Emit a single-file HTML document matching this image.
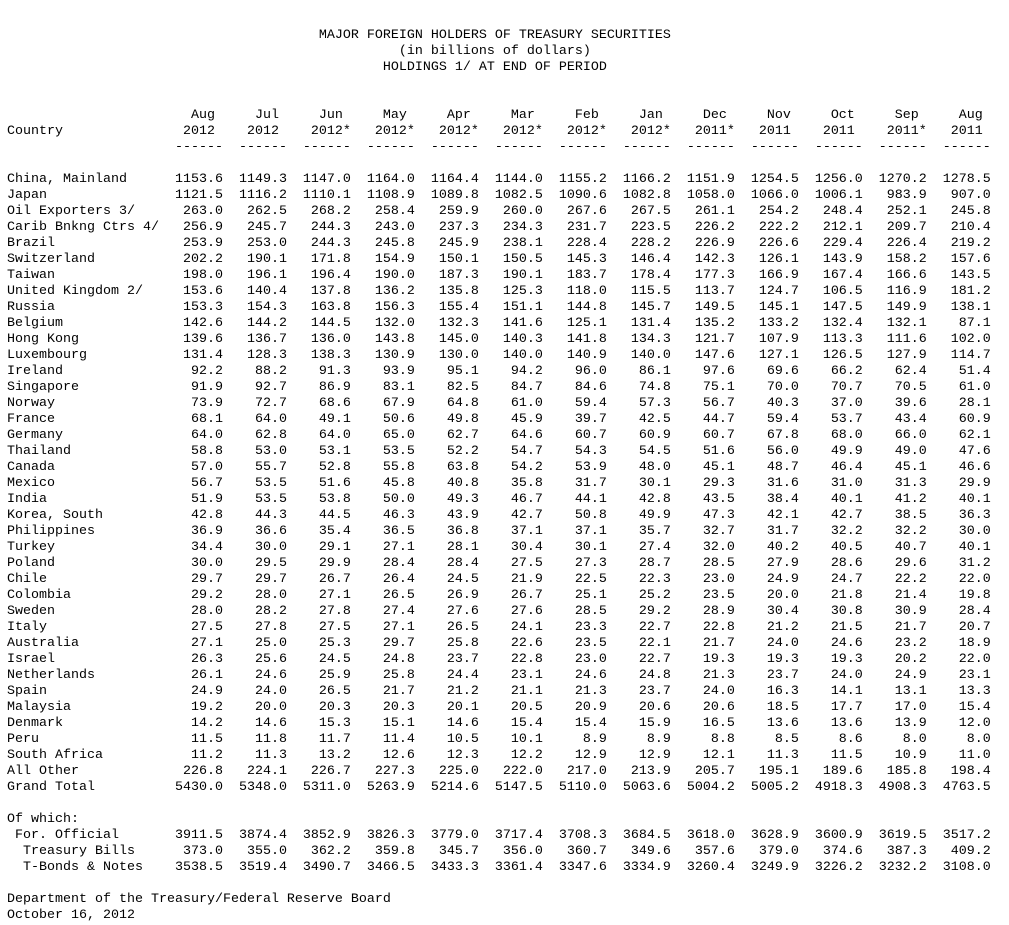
<!DOCTYPE html>
<html><head><meta charset="utf-8"><style>
html,body{margin:0;padding:0;background:#fff;}
body{width:1009px;height:925px;overflow:hidden;position:relative;}
pre{position:absolute;left:7px;top:28px;margin:0;font-family:"Liberation Mono",monospace;font-size:13.33px;line-height:16px;color:#000;}
</style></head><body><pre>                                       MAJOR FOREIGN HOLDERS OF TREASURY SECURITIES
                                                 (in billions of dollars)
                                               HOLDINGS 1/ AT END OF PERIOD


                       Aug     Jul     Jun     May     Apr     Mar     Feb     Jan     Dec     Nov     Oct     Sep     Aug
Country               2012    2012    2012*   2012*   2012*   2012*   2012*   2012*   2011*   2011    2011    2011*   2011
                     ------  ------  ------  ------  ------  ------  ------  ------  ------  ------  ------  ------  ------

China, Mainland      1153.6  1149.3  1147.0  1164.0  1164.4  1144.0  1155.2  1166.2  1151.9  1254.5  1256.0  1270.2  1278.5
Japan                1121.5  1116.2  1110.1  1108.9  1089.8  1082.5  1090.6  1082.8  1058.0  1066.0  1006.1   983.9   907.0
Oil Exporters 3/      263.0   262.5   268.2   258.4   259.9   260.0   267.6   267.5   261.1   254.2   248.4   252.1   245.8
Carib Bnkng Ctrs 4/   256.9   245.7   244.3   243.0   237.3   234.3   231.7   223.5   226.2   222.2   212.1   209.7   210.4
Brazil                253.9   253.0   244.3   245.8   245.9   238.1   228.4   228.2   226.9   226.6   229.4   226.4   219.2
Switzerland           202.2   190.1   171.8   154.9   150.1   150.5   145.3   146.4   142.3   126.1   143.9   158.2   157.6
Taiwan                198.0   196.1   196.4   190.0   187.3   190.1   183.7   178.4   177.3   166.9   167.4   166.6   143.5
United Kingdom 2/     153.6   140.4   137.8   136.2   135.8   125.3   118.0   115.5   113.7   124.7   106.5   116.9   181.2
Russia                153.3   154.3   163.8   156.3   155.4   151.1   144.8   145.7   149.5   145.1   147.5   149.9   138.1
Belgium               142.6   144.2   144.5   132.0   132.3   141.6   125.1   131.4   135.2   133.2   132.4   132.1    87.1
Hong Kong             139.6   136.7   136.0   143.8   145.0   140.3   141.8   134.3   121.7   107.9   113.3   111.6   102.0
Luxembourg            131.4   128.3   138.3   130.9   130.0   140.0   140.9   140.0   147.6   127.1   126.5   127.9   114.7
Ireland                92.2    88.2    91.3    93.9    95.1    94.2    96.0    86.1    97.6    69.6    66.2    62.4    51.4
Singapore              91.9    92.7    86.9    83.1    82.5    84.7    84.6    74.8    75.1    70.0    70.7    70.5    61.0
Norway                 73.9    72.7    68.6    67.9    64.8    61.0    59.4    57.3    56.7    40.3    37.0    39.6    28.1
France                 68.1    64.0    49.1    50.6    49.8    45.9    39.7    42.5    44.7    59.4    53.7    43.4    60.9
Germany                64.0    62.8    64.0    65.0    62.7    64.6    60.7    60.9    60.7    67.8    68.0    66.0    62.1
Thailand               58.8    53.0    53.1    53.5    52.2    54.7    54.3    54.5    51.6    56.0    49.9    49.0    47.6
Canada                 57.0    55.7    52.8    55.8    63.8    54.2    53.9    48.0    45.1    48.7    46.4    45.1    46.6
Mexico                 56.7    53.5    51.6    45.8    40.8    35.8    31.7    30.1    29.3    31.6    31.0    31.3    29.9
India                  51.9    53.5    53.8    50.0    49.3    46.7    44.1    42.8    43.5    38.4    40.1    41.2    40.1
Korea, South           42.8    44.3    44.5    46.3    43.9    42.7    50.8    49.9    47.3    42.1    42.7    38.5    36.3
Philippines            36.9    36.6    35.4    36.5    36.8    37.1    37.1    35.7    32.7    31.7    32.2    32.2    30.0
Turkey                 34.4    30.0    29.1    27.1    28.1    30.4    30.1    27.4    32.0    40.2    40.5    40.7    40.1
Poland                 30.0    29.5    29.9    28.4    28.4    27.5    27.3    28.7    28.5    27.9    28.6    29.6    31.2
Chile                  29.7    29.7    26.7    26.4    24.5    21.9    22.5    22.3    23.0    24.9    24.7    22.2    22.0
Colombia               29.2    28.0    27.1    26.5    26.9    26.7    25.1    25.2    23.5    20.0    21.8    21.4    19.8
Sweden                 28.0    28.2    27.8    27.4    27.6    27.6    28.5    29.2    28.9    30.4    30.8    30.9    28.4
Italy                  27.5    27.8    27.5    27.1    26.5    24.1    23.3    22.7    22.8    21.2    21.5    21.7    20.7
Australia              27.1    25.0    25.3    29.7    25.8    22.6    23.5    22.1    21.7    24.0    24.6    23.2    18.9
Israel                 26.3    25.6    24.5    24.8    23.7    22.8    23.0    22.7    19.3    19.3    19.3    20.2    22.0
Netherlands            26.1    24.6    25.9    25.8    24.4    23.1    24.6    24.8    21.3    23.7    24.0    24.9    23.1
Spain                  24.9    24.0    26.5    21.7    21.2    21.1    21.3    23.7    24.0    16.3    14.1    13.1    13.3
Malaysia               19.2    20.0    20.3    20.3    20.1    20.5    20.9    20.6    20.6    18.5    17.7    17.0    15.4
Denmark                14.2    14.6    15.3    15.1    14.6    15.4    15.4    15.9    16.5    13.6    13.6    13.9    12.0
Peru                   11.5    11.8    11.7    11.4    10.5    10.1     8.9     8.9     8.8     8.5     8.6     8.0     8.0
South Africa           11.2    11.3    13.2    12.6    12.3    12.2    12.9    12.9    12.1    11.3    11.5    10.9    11.0
All Other             226.8   224.1   226.7   227.3   225.0   222.0   217.0   213.9   205.7   195.1   189.6   185.8   198.4
Grand Total          5430.0  5348.0  5311.0  5263.9  5214.6  5147.5  5110.0  5063.6  5004.2  5005.2  4918.3  4908.3  4763.5

Of which:
 For. Official       3911.5  3874.4  3852.9  3826.3  3779.0  3717.4  3708.3  3684.5  3618.0  3628.9  3600.9  3619.5  3517.2
  Treasury Bills      373.0   355.0   362.2   359.8   345.7   356.0   360.7   349.6   357.6   379.0   374.6   387.3   409.2
  T-Bonds &amp; Notes    3538.5  3519.4  3490.7  3466.5  3433.3  3361.4  3347.6  3334.9  3260.4  3249.9  3226.2  3232.2  3108.0

Department of the Treasury/Federal Reserve Board
October 16, 2012</pre></body></html>
